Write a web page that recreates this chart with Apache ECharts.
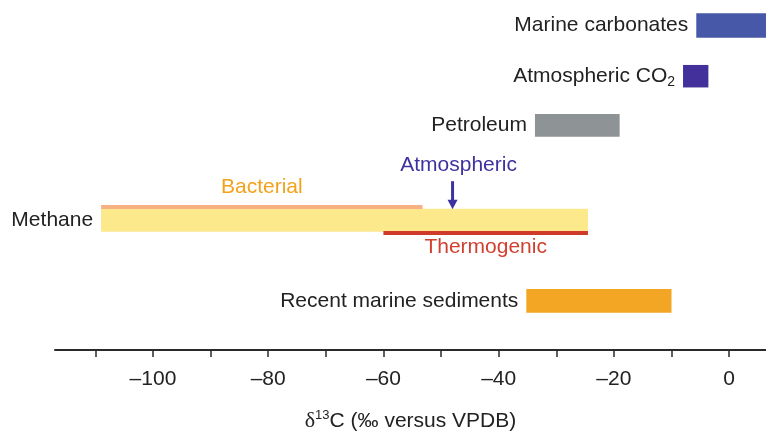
<!DOCTYPE html>
<html>
<head>
<meta charset="utf-8">
<script src="https://cdn.jsdelivr.net/npm/echarts@6/dist/echarts.min.js"></script>
<style>
html,body{margin:0;padding:0;background:#fff;}
#chart{width:766px;height:431px;}
</style>
</head>
<body>
<div id="chart"></div>
<script>
// ---- data (δ13C ranges, ‰ versus VPDB) ----
const categories = ['Marine carbonates', 'Atmospheric CO2', 'Petroleum', 'Methane', 'Recent marine sediments'];
const rangeStart = [-5.7, -8.0, -33.7, -109, -35.2];
const rangeEnd   = [10, -3.6, -19.0, -24.5, -10.0];
const subNames = ['Bacterial', 'Thermogenic'];
const subStart = [-109, -60];
const subEnd   = [-53.2, -24.5];
const atmosphericMethane = -48;
const majorTicks = [-100, -80, -60, -40, -20, 0];
const minorTicks = [-110, -100, -90, -80, -70, -60, -50, -40, -30, -20, -10, 0];

// ---- layout / style ----
const X_MIN = -117, X_MAX = 6.4;
const ROW_Y = [25.5, 76.2, 125.3, 220.2, 300.8];   // vertical layout units (0..350, top-down)
const BAR_H = [24.4, 22.5, 22.7, 23, 23.7];
const BAR_COLORS = ['#4858a8', '#43309b', '#8e9396', '#fbe98b', '#f2a623'];
const SUB_COLORS = ['#f7b183', '#cf3a2a'];
const SUB_TEXT_COLORS = ['#f4a11c', '#d04030'];
const ATM_COLOR = '#3e32a0';
const FONT = 'Liberation Sans, Arial, Helvetica, sans-serif';
const TEXT_COLOR = '#222';
const FS = 21;
const METHANE = 3;

function labelText(name) {
  if (name === 'Atmospheric CO2') return '{n|Atmospheric CO}{sub|2}';
  return '{n|' + name + '}';
}

const chart = echarts.init(document.getElementById('chart'), null, {renderer: 'canvas'});

const option = {
  animation: false,
  backgroundColor: '#fff',
  grid: {left: 55, right: 0, top: 0, bottom: 81, containLabel: false, outerBoundsMode: 'none'},
  xAxis: {
    type: 'value',
    min: X_MIN,
    max: X_MAX,
    splitLine: {show: false},
    axisLine: {show: true, onZero: false, lineStyle: {color: '#2a2a2a', width: 2}},
    axisTick: {show: true, customValues: minorTicks, length: 7, lineStyle: {color: '#2a2a2a', width: 1.5}},
    axisLabel: {
      customValues: majorTicks,
      margin: 19,
      fontSize: FS,
      fontFamily: FONT,
      color: TEXT_COLOR,
      formatter: v => String(v).replace('-', '\u2013')
    },
    name: '{d|\u03b4}{sup|13}{n|C (\u2030 versus VPDB)}',
    nameLocation: 'middle',
    nameGap: 59,
    nameTextStyle: {
      color: TEXT_COLOR,
      fontFamily: FONT,
      fontSize: FS,
      rich: {
        d: {fontFamily: 'Liberation Serif, serif', fontSize: 22, color: TEXT_COLOR, lineHeight: 24},
        sup: {fontFamily: FONT, fontSize: 13, color: TEXT_COLOR, lineHeight: 14, verticalAlign: 'top'},
        n: {fontFamily: FONT, fontSize: FS, color: TEXT_COLOR, lineHeight: 24}
      }
    }
  },
  yAxis: {type: 'value', min: 0, max: 350, inverse: true, show: false},
  series: [
    {
      type: 'custom',
      name: 'ranges',
      data: categories.map((c, i) => [rangeStart[i], rangeEnd[i], ROW_Y[i]]),
      renderItem: function (params, api) {
        const i = params.dataIndex;
        const s = api.coord([api.value(0), api.value(2)]);
        const e = api.coord([Math.min(api.value(1), X_MAX), api.value(2)]);
        const h = BAR_H[i];
        return {
          type: 'group',
          children: [
            {type: 'rect', shape: {x: s[0], y: s[1] - h / 2, width: e[0] - s[0], height: h}, style: {fill: BAR_COLORS[i]}},
            {type: 'text', x: s[0] - 8, y: s[1], style: {
              text: labelText(categories[i]), align: 'right', verticalAlign: 'middle',
              rich: {
                n: {fontFamily: FONT, fontSize: FS, fill: TEXT_COLOR, lineHeight: 26},
                sub: {fontFamily: FONT, fontSize: 14, fill: TEXT_COLOR, lineHeight: 12, verticalAlign: 'bottom'}
              }
            }}
          ]
        };
      },
      z: 2
    },
    {
      type: 'custom',
      name: 'methane sources',
      data: subNames.map((n, i) => [subStart[i], subEnd[i]]),
      renderItem: function (params, api) {
        const i = params.dataIndex;
        const yc = ROW_Y[METHANE], h = BAR_H[METHANE];
        const s = api.coord([api.value(0), yc]);
        const e = api.coord([api.value(1), yc]);
        const top = s[1] - h / 2, bot = s[1] + h / 2;
        const lineY = i === 0 ? top - 3.7 : bot - 0.7;
        const textY = i === 0 ? top - 21.5 : bot + 16;
        return {
          type: 'group',
          children: [
            {type: 'rect', shape: {x: s[0], y: lineY, width: e[0] - s[0], height: 4}, style: {fill: SUB_COLORS[i]}},
            {type: 'text', x: (s[0] + e[0]) / 2, y: textY, style: {
              text: subNames[i], align: 'center', verticalAlign: 'middle',
              fontFamily: FONT, fontSize: FS, fill: SUB_TEXT_COLORS[i]
            }}
          ]
        };
      },
      z: 3
    },
    {
      type: 'custom',
      name: 'atmospheric methane',
      data: [[atmosphericMethane]],
      renderItem: function (params, api) {
        const yc = ROW_Y[METHANE], h = BAR_H[METHANE];
        const p = api.coord([api.value(0), yc]);
        const tip = p[1] - h / 2 + 0.5;
        return {
          type: 'group',
          children: [
            {type: 'rect', shape: {x: p[0] - 1.5, y: tip - 28, width: 3, height: 20}, style: {fill: ATM_COLOR}},
            {type: 'polygon', shape: {points: [[p[0] - 5, tip - 9.5], [p[0] + 5, tip - 9.5], [p[0], tip]]}, style: {fill: ATM_COLOR}},
            {type: 'text', x: p[0] + 6, y: tip - 44, style: {
              text: 'Atmospheric', align: 'center', verticalAlign: 'middle',
              fontFamily: FONT, fontSize: FS, fill: ATM_COLOR
            }}
          ]
        };
      },
      z: 4
    }
  ]
};
chart.setOption(option);
</script>
</body>
</html>
